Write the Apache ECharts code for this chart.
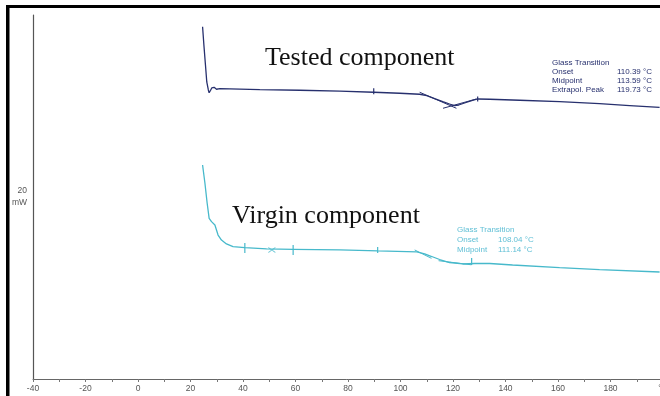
<!DOCTYPE html>
<html>
<head>
<meta charset="utf-8">
<script src="https://cdn.jsdelivr.net/npm/echarts@6/dist/echarts.min.js"></script>
<style>html,body{margin:0;padding:0;background:#fff;}#c{width:660px;height:396px;}</style>
</head>
<body>
<div id="c"></div>
<script>
// Temperature (°C) and heat flow (mW)
const testedT = [24.6,25.1,25.7,26.2,26.8,27.1,27.6,28.1,29.0,29.9,31.2,46.4,61.6,76.9,89.8,99.7,107.3,110.0,113.0,116.1,118.7,120.6,122.2,124.4,127.1,129.4,134.0,145.4,160.6,175.8,187.3,198.7];
const testedMW = [38.71,36.70,34.51,32.64,31.76,31.46,31.70,31.98,32.05,31.84,31.90,31.81,31.73,31.63,31.51,31.40,31.29,31.15,30.82,30.49,30.22,30.05,30.11,30.33,30.60,30.77,30.74,30.63,30.49,30.27,30.05,29.84];
const virginT = [24.6,25.5,26.35,27.1,28.0,29.3,30.5,31.8,33.7,36.2,40.7,49.0,59.1,76.9,91.3,106.2,109.2,111.9,114.9,118.7,123.7,128.3,134.0,142.7,160.6,175.8,198.7];
const virginMW = [23.52,21.51,19.31,17.66,17.29,16.92,15.82,15.27,14.84,14.54,14.43,14.29,14.25,14.18,14.07,13.96,13.74,13.46,13.13,12.80,12.64,12.69,12.69,12.53,12.25,12.03,11.76];
// tangent construction lines [T1, mW1, T2, mW2]
const testedTangents = [[107.3,31.51,121.3,29.75],[116.2,29.75,128.9,30.77]];
const virginTangents = [[105.4,14.18,111.8,13.26],[114.5,13.0,127.0,12.55]];
// evaluation limit ticks [T, mWtop, mWbottom]
const testedTicks = [[89.8,31.95,31.29],[129.4,31.04,30.49]];
const virginTicks = [[40.7,14.95,13.85],[59.1,14.73,13.63],[91.3,14.51,13.85],[127.1,13.30,12.53]];
const virginCross = [[51.0,14.18]];
const testedLabels = ['Glass Transition','Onset','Midpoint','Extrapol. Peak'];
const testedValues = ['', '110.39 °C','113.59 °C','119.73 °C'];
const virginLabels = ['Glass Transition','Onset','Midpoint'];
const virginValues = ['', '108.04 °C','111.14 °C'];
const xMin = -40, xMax = 200, xStep = 10;
const yMin = 0, yMax = 40, yLabel = 20;

const navy = '#27306e', cyan = '#47b9cb', cyanText = '#62c0d6';
const zip = (a,b) => a.map((v,i)=>[v,b[i]]);

const series = [];
series.push({type:'line', data: zip(testedT,testedMW), showSymbol:false, lineStyle:{color:navy,width:1.3}, animation:false});
series.push({type:'line', data: zip(virginT,virginMW), showSymbol:false, lineStyle:{color:cyan,width:1.3}, animation:false});
testedTangents.forEach(s=>series.push({type:'line', data:[[s[0],s[1]],[s[2],s[3]]], showSymbol:false, lineStyle:{color:navy,width:1}, animation:false}));
virginTangents.forEach(s=>series.push({type:'line', data:[[s[0],s[1]],[s[2],s[3]]], showSymbol:false, lineStyle:{color:cyan,width:1}, animation:false}));
testedTicks.forEach(s=>series.push({type:'line', data:[[s[0],s[1]],[s[0],s[2]]], showSymbol:false, lineStyle:{color:navy,width:1.2}, animation:false}));
virginTicks.forEach(s=>series.push({type:'line', data:[[s[0],s[1]],[s[0],s[2]]], showSymbol:false, lineStyle:{color:cyan,width:1.2}, animation:false}));
series.push({type:'scatter', data: virginCross, symbol:'path://M0,0L10,8M10,0L0,8', symbolSize:[7,5], itemStyle:{color:'none',borderColor:cyan,borderWidth:1}, animation:false});

const graphic = [
  {type:'rect', shape:{x:6,y:5,width:654,height:3}, style:{fill:'#000'}},
  {type:'rect', shape:{x:6,y:5,width:3.5,height:391}, style:{fill:'#000'}},
  {type:'text', style:{x:265,y:58,text:'Tested component',font:'26px "Liberation Serif"',fill:'#111',textVerticalAlign:'middle'}},
  {type:'text', style:{x:232,y:216,text:'Virgin component',font:'26px "Liberation Serif"',fill:'#111',textVerticalAlign:'middle'}}
];
testedLabels.forEach((t,i)=>{
  graphic.push({type:'text', style:{x:552,y:63+i*9,text:t,font:'8px "Liberation Sans"',fill:navy,textVerticalAlign:'middle'}});
  if (testedValues[i]) graphic.push({type:'text', style:{x:652,y:63+i*9,text:testedValues[i],font:'8px "Liberation Sans"',fill:navy,textAlign:'right',textVerticalAlign:'middle'}});
});
virginLabels.forEach((t,i)=>{
  graphic.push({type:'text', style:{x:457,y:230+i*10,text:t,font:'8px "Liberation Sans"',fill:cyanText,textVerticalAlign:'middle'}});
  if (virginValues[i]) graphic.push({type:'text', style:{x:498,y:230+i*10,text:virginValues[i],font:'8px "Liberation Sans"',fill:cyanText,textVerticalAlign:'middle'}});
});

const chart = echarts.init(document.getElementById('c'), null, {renderer:'canvas'});
chart.setOption({
  animation:false,
  backgroundColor:'#fff',
  grid:{left:33,top:15,width:630,height:364,containLabel:false,outerBoundsMode:'none'},
  xAxis:{type:'value',min:xMin,max:xMax,interval:xStep,
    axisLine:{show:true,onZero:false,lineStyle:{color:'#666',width:1}},
    axisTick:{show:true,length:3,lineStyle:{color:'#777'}},
    splitLine:{show:false},
    axisLabel:{margin:5,fontSize:8.5,fontFamily:'Liberation Sans',color:'#555',showMaxLabel:true,showMinLabel:true,
      formatter:v=> v===xMax ? '°C' : (v%20===0 ? String(v) : '')}},
  yAxis:{type:'value',min:yMin,max:yMax,interval:yLabel,
    axisLine:{show:true,onZero:false,lineStyle:{color:'#555',width:1.2}},
    axisTick:{show:false},
    splitLine:{show:false},
    axisLabel:{margin:6,fontSize:8.5,lineHeight:12,fontFamily:'Liberation Sans',color:'#555',
      formatter:v=> v===yLabel ? '20\nmW' : ''}},
  series, graphic
});
</script>
</body>
</html>
